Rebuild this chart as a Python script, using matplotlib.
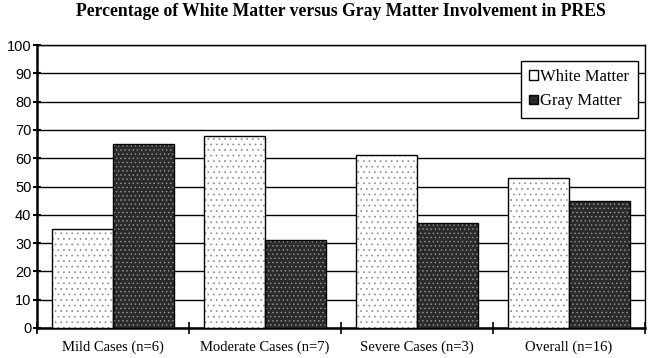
import matplotlib
matplotlib.use("Agg")
import matplotlib.pyplot as plt
import numpy as np

categories = ["Mild Cases (n=6)", "Moderate Cases (n=7)", "Severe Cases (n=3)", "Overall (n=16)"]
white_matter = [35, 68, 61, 53]
gray_matter = [65, 31, 37, 45]
yticks = list(range(0, 101, 10))

SERIF = ["Liberation Serif", "DejaVu Serif"]
SANS = ["Liberation Sans", "DejaVu Sans"]

fig = plt.figure(figsize=(6.5, 3.58), dpi=100)
ax = fig.add_axes([0.057, 0.084, 0.935, 0.79])

x = np.arange(len(categories))
width = 0.4

# fill + hatch, then a separate black outline
plt.rcParams["hatch.linewidth"] = 0.5
ax.bar(x - width / 2, white_matter, width, color="white", edgecolor="#8a8a8a",
       hatch="...", linewidth=0, zorder=3)
ax.bar(x + width / 2, gray_matter, width, color="#2b2b2b", edgecolor="#9a9a9a",
       hatch="....", linewidth=0, zorder=3)
ax.bar(x - width / 2, white_matter, width, fill=False, edgecolor="black", linewidth=1.0, zorder=4)
ax.bar(x + width / 2, gray_matter, width, fill=False, edgecolor="black", linewidth=1.0, zorder=4)

ax.set_xlim(-0.5, len(categories) - 0.5)
ax.set_ylim(0, 100)
ax.set_yticks(yticks)
ax.set_yticklabels([str(v) for v in yticks], family=SANS, fontsize=10.5)
ax.tick_params(axis="y", direction="inout", length=6, width=1.5, pad=1)

ax.set_xticks(np.arange(len(categories) + 1) - 0.5)
ax.set_xticklabels([])
ax.set_xticks(x, minor=True)
ax.set_xticklabels(categories, minor=True, family=SERIF, fontsize=10.5)
ax.tick_params(axis="x", which="major", direction="inout", length=8, width=1.2)
ax.tick_params(axis="x", which="minor", length=0, pad=9)

ax.yaxis.grid(True, color="black", linewidth=1.0, zorder=1)
ax.set_axisbelow(True)
for side in ("left", "bottom"):
    ax.spines[side].set_linewidth(1.8)
ax.spines["right"].set_linewidth(1.0)
ax.spines["top"].set_linewidth(1.0)

handles = [
    plt.Rectangle((0, 0), 1, 1, facecolor="white", edgecolor="black", linewidth=1.0),
    plt.Rectangle((0, 0), 1, 1, facecolor="#2b2b2b", edgecolor="black", linewidth=1.0,
                  hatch="...."),
]
leg = ax.legend(handles, ["White Matter", "Gray Matter"], loc="upper right",
                bbox_to_anchor=(0.988, 0.945), borderaxespad=0,
                prop={"family": SERIF, "size": 12},
                frameon=True, fancybox=False, edgecolor="black", framealpha=1,
                handlelength=0.5, handleheight=0.5, handletextpad=0.15,
                labelspacing=0.5, borderpad=0.5)
leg.get_frame().set_linewidth(1.0)
leg.set_zorder(6)

# title is centred over the plot area, not the figure
fig.text(0.525, 0.968, "Percentage of White Matter versus Gray Matter Involvement in PRES",
         ha="center", va="center", family=SERIF, fontweight="bold", fontsize=12.7)

fig.savefig("out.png", dpi=100)
